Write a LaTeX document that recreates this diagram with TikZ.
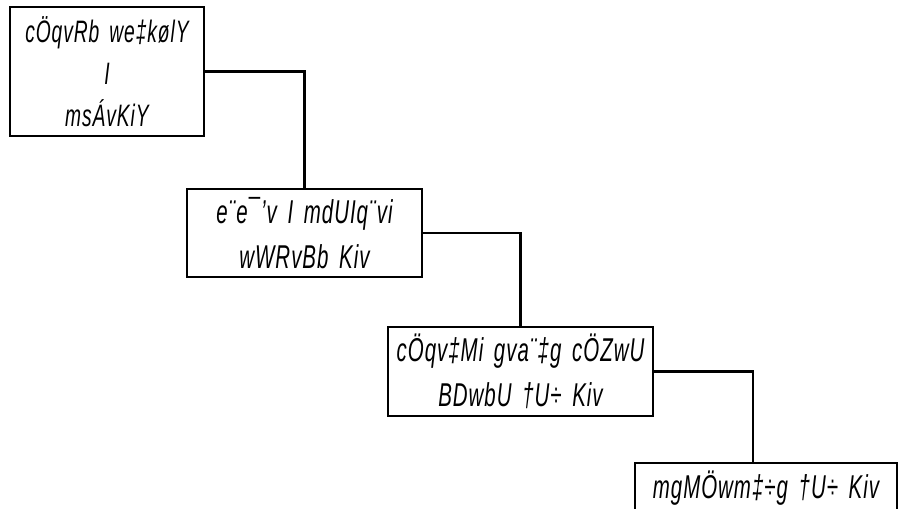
\documentclass[tikz,border=0pt]{standalone}
\usepackage{fontspec}
\newfontfamily\bnfont[FakeStretch=0.62,LetterSpace=3,WordSpace=1.6]{Liberation Sans}
\tikzset{
  box/.style={draw=black, line width=2.4pt, fill=white, align=center, inner sep=0pt,
    font=\fontsize{33}{45}\bnfont\itshape},
  small/.style={font=\fontsize{31}{42}\bnfont\itshape},
  conn/.style={draw=black, line width=2.4pt}
}
\begin{document}
\begin{tikzpicture}[x=1pt,y=-1pt]
\clip (0,0) rectangle (898,509);
\fill[white] (0,0) rectangle (898,509);
\node[box, small, minimum width=194pt, minimum height=129pt] (b1) at (107,71.5)
  {cÖqvRb we‡kølY\\I\\msÁvKiY};
\node[box, minimum width=235pt, minimum height=88pt] (b2) at (304.5,233)
  {e¨e¯’v I mdUIq¨vi\\wWRvBb Kiv};
\node[box, minimum width=265pt, minimum height=89pt] (b3) at (520.5,371.5)
  {cÖqv‡Mi gva¨‡g cÖZwU\\BDwbU †U÷ Kiv};
\node[box, minimum width=262pt, minimum height=50pt] (b4) at (766,488)
  {mgMÖwm‡÷g †U÷ Kiv};
\coordinate (c4) at (753,463);
\draw[conn] (b1.east) -| (b2.north);
\draw[conn] (b2.east) -| (b3.north);
\draw[conn] (b3.east) -| (c4);
\end{tikzpicture}
\end{document}
